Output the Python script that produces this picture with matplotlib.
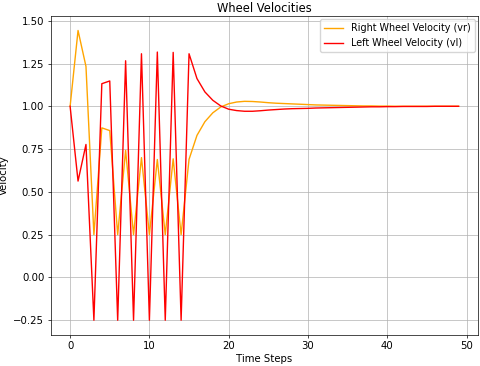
import numpy as np
import matplotlib
matplotlib.use("Agg")
import matplotlib.pyplot as plt

steps = np.arange(50)

vr = [1.0, 1.443, 1.233, 0.25, 0.874, 0.858, 0.25, 0.742, 0.25, 0.70,
      0.25, 0.689, 0.25, 0.693, 0.25, 0.69, 0.83, 0.91, 0.962, 0.996,
      1.015, 1.025, 1.029, 1.028, 1.025, 1.021, 1.018, 1.016, 1.014, 1.012,
      1.010, 1.008, 1.007, 1.006, 1.005, 1.004, 1.003, 1.002, 1.002, 1.001,
      1.001, 1.0, 1.0, 1.0, 1.0, 1.0, 1.0, 1.0, 1.0, 1.0]

vl = [1.0, 0.563, 0.777, -0.25, 1.132, 1.148, -0.25, 1.266, -0.25, 1.307,
      -0.25, 1.317, -0.25, 1.315, -0.25, 1.307, 1.162, 1.084, 1.035, 1.002,
      0.983, 0.975, 0.971, 0.971, 0.974, 0.978, 0.981, 0.984, 0.986, 0.987,
      0.988, 0.990, 0.991, 0.992, 0.993, 0.994, 0.995, 0.996, 0.997, 0.997,
      0.998, 0.998, 0.999, 0.999, 0.999, 0.999, 1.0, 1.0, 1.0, 1.0]

fig = plt.figure(figsize=(4.8, 3.66), dpi=100)
ax = fig.add_axes([0.1056, 0.0855, 0.8903, 0.8708])

ax.plot(steps, vr, color='orange', lw=1.0, label='Right Wheel Velocity (vr)')
ax.plot(steps, vl, color='red', lw=1.0, label='Left Wheel Velocity (vl)')

ax.set_title('Wheel Velocities', fontsize=8.3, pad=3)
ax.set_xlabel('Time Steps', fontsize=7.3, labelpad=2)
ax.set_ylabel('Velocity', fontsize=7.3)
ax.yaxis.set_label_coords(-0.098, 0.5)
ax.tick_params(labelsize=7.3, length=2.3, width=0.5, pad=2.3)
for s in ax.spines.values():
    s.set_linewidth(0.5)
ax.grid(True, lw=0.5)
ax.legend(loc='upper right', fontsize=6.9, borderaxespad=0.35)

fig.savefig('out.png', dpi=100)
